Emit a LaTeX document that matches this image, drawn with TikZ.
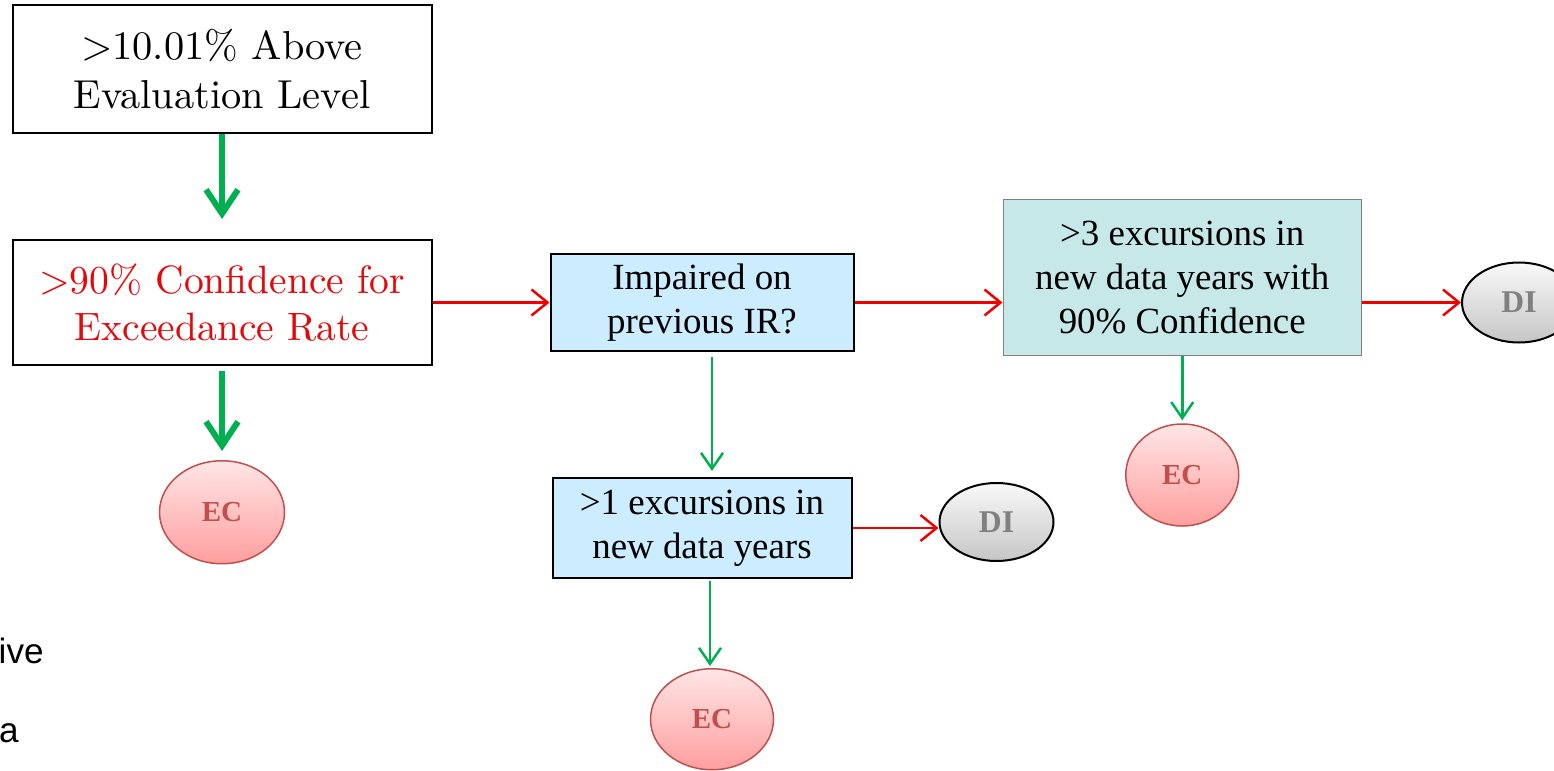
\documentclass[tikz,border=0pt]{standalone}
\usepackage{fontspec}
\newfontfamily\timesfont{Liberation Serif}
\newfontfamily\arialfont{Liberation Sans}
\newfontfamily\boxfont{lmroman10-regular.otf}
\usetikzlibrary{positioning,shapes.geometric,arrows.meta}
\definecolor{arrowgreen}{RGB}{0,176,80}
\definecolor{arrowred}{RGB}{240,0,0}
\definecolor{textred}{RGB}{228,8,10}
\definecolor{boxblue}{RGB}{204,236,255}
\definecolor{boxteal}{RGB}{198,232,232}
\definecolor{ecborder}{RGB}{192,80,77}
\tikzset{main box/.style={rectangle, draw=black, line width=0.4mm, inner sep=0pt, align=center},
  ec node/.style={ellipse, draw=ecborder, line width=0.3mm, top color=red!10, bottom color=red!38!white, text=ecborder, inner sep=0pt, font=\fontsize{16.5}{20}\selectfont\timesfont\bfseries},
  di node/.style={ellipse, draw=black, line width=0.4mm, top color=gray!5, bottom color=gray!45, text=gray, inner sep=0pt, font=\fontsize{18}{21}\selectfont\timesfont\bfseries},
  big arrow/.style={draw=arrowgreen, line width=1.2mm, -{Straight Barb[length=4.8mm,width=6.4mm]}},
  down arrow/.style={draw=arrowgreen, line width=0.5mm, -{Straight Barb[length=3.2mm,width=4.4mm]}},
  side arrow/.style={draw=arrowred, line width=0.5mm, -{Straight Barb[length=3.2mm,width=5.2mm]}},}

\begin{document}
\begin{tikzpicture}
        \useasboundingbox (0,0) rectangle (310.8mm,-154.2mm);
        % Nodes
        \node[main box, minimum width=83.8mm, minimum height=25.6mm, font=\fontsize{23}{27.5}\selectfont\boxfont] (1) at (44.4mm,-13.8mm) {>10.01\% Above\\Evaluation Level};
        \node[main box, minimum width=83.8mm, minimum height=25mm, text=textred, font=\fontsize{22.5}{26.5}\selectfont\boxfont] [below = 21mm of 1] (2) {>90\% Confidence for\\Exceedance Rate};
        \node[ec node, minimum width=25mm, minimum height=20.6mm] [below = 18.8mm of 2] (3) {EC};
        \node[main box, fill=boxblue, minimum width=60.6mm, minimum height=19.4mm, font=\fontsize{21}{25}\selectfont\timesfont] [right = 23.4mm of 2] (4) {Impaired on\\previous IR?};
        \node[main box, draw=gray, line width=0.3mm, fill=boxteal, minimum width=71.6mm, minimum height=31.2mm, font=\fontsize{21}{25}\selectfont\timesfont] [right = 29.6mm of 4, yshift=5mm] (5) {>3 excursions in\\new data years with\\90\% Confidence};
        \node[di node, minimum width=22.8mm, minimum height=16mm] [right = 19.8mm of 5, yshift=-5mm] (6) {DI};
        \node[ec node, minimum width=22.6mm, minimum height=20.4mm] [below = 13.4mm of 5] (7) {EC};
        \node[main box, fill=boxblue, minimum width=59.8mm, minimum height=20mm, font=\fontsize{21}{25}\selectfont\timesfont] [below = 25mm of 4] (8) {>1 excursions in\\new data years};
        \node[di node, minimum width=22.8mm, minimum height=15.6mm] [right = 17.2mm of 8, yshift=1.2mm] (9) {DI};
        \node[ec node, minimum width=24.6mm, minimum height=20.2mm] [below = 17.8mm of 8, xshift=2mm] (10) {EC};
        \node[anchor=base east, inner sep=0pt, font=\fontsize{20}{24}\selectfont\arialfont] (11) at (8.8mm,-132.6mm) {ive};
        \node[anchor=base east, inner sep=0pt, font=\fontsize{20}{24}\selectfont\arialfont] (12) at (3.8mm,-148.4mm) {a};
        % Paths
        \draw[big arrow, shorten >=4mm] (1) -- (2);
        \draw[big arrow, shorten <=1mm, shorten >=1.8mm] (2) -- (3);
        \draw[side arrow] (2.east) -- (2.east -| 4.west);
        \draw[side arrow] (4.east) -- (4.east -| 5.west);
        \draw[side arrow] (6.west -| 5.east) -- (6.west);
        \draw[down arrow, shorten <=1mm, shorten >=1.2mm] ([xshift=2mm]4.south) -- ([xshift=2mm]4.south |- 8.north);
        \draw[side arrow] (8.east) -- (8.east -| 9.west);
        \draw[down arrow, shorten <=0.4mm, shorten >=0.4mm] ([xshift=1.6mm]8.south) -- ([xshift=1.6mm]8.south |- 10.north);
        \draw[down arrow, shorten >=0.6mm] (5) -- (7);
    \end{tikzpicture}
\end{document}
